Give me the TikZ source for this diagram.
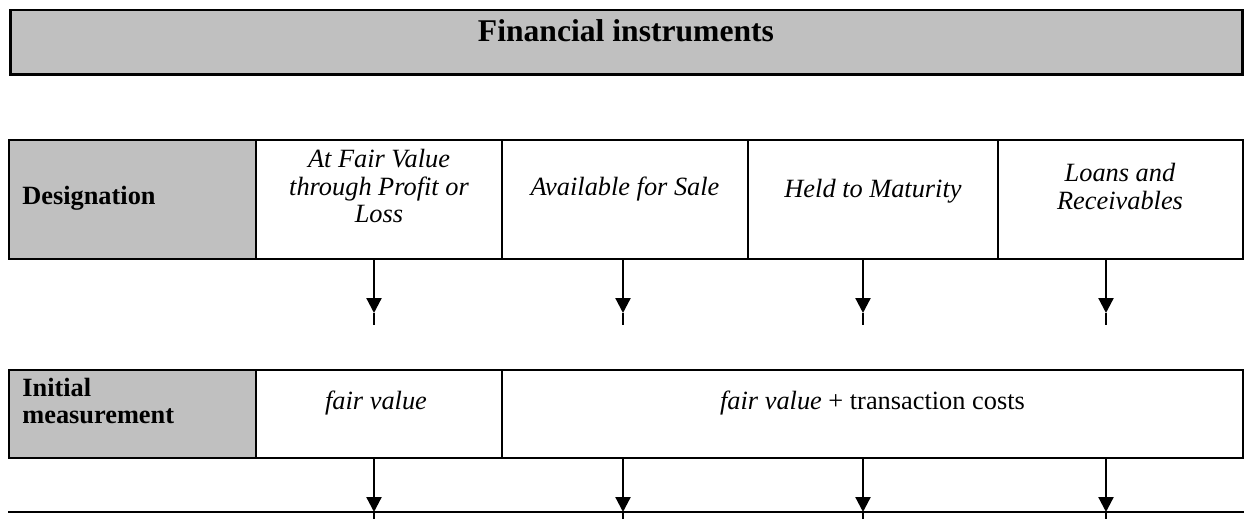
\documentclass[tikz,border=0pt]{standalone}
\usepackage{fontspec}
\setmainfont{Liberation Serif}
\usetikzlibrary{arrows.meta}
\definecolor{cellgray}{HTML}{C0C0C0}

\begin{document}
\begin{tikzpicture}[x=0.02cm, y=-0.02cm]
\tikzstyle{cell} = [draw, line width=1.2pt, inner sep=0pt, minimum height=2.38cm]
\tikzstyle{cell2} = [cell, minimum height=1.76cm]
\tikzstyle{head} = [fill=cellgray]
\tikzstyle{txt} = [font=\fontsize{15}{15.9}\selectfont\itshape, align=center, inner sep=0pt]
\tikzstyle{headtxt} = [font=\fontsize{15}{15.9}\selectfont\bfseries, align=left, inner sep=0pt, anchor=west]
\tikzstyle{flowarrow} = [line width=1.3pt, -{Triangle[length=8.5pt, width=8.5pt]}]
\tikzstyle{flowline} = [line width=1.3pt]

\useasboundingbox (0,0) rectangle (1244,519);

\node[draw, fill=cellgray, line width=1.7pt, minimum width=24.66cm, minimum height=1.3cm, inner sep=0pt] (fin) at (626.5,42.5) {};
\node[font=\fontsize{18}{21}\selectfont\bfseries, inner sep=0pt] (fintxt) at (626,31) {Financial instruments};

\node[cell, head, minimum width=4.94cm] (desig) at (132.5,199.5) {};
\node[cell, minimum width=4.92cm] (fvpl) at (379,199.5) {};
\node[cell, minimum width=4.92cm] (afs) at (625,199.5) {};
\node[cell, minimum width=5cm] (htm) at (873,199.5) {};
\node[cell, minimum width=4.9cm] (lar) at (1120.5,199.5) {};

\node[headtxt] (desigtxt) at (22,198) {Designation};
\node[txt] (fvpltxt) at (379,186) {At Fair Value\\through Profit or\\Loss};
\node[txt] (afstxt) at (625,189) {Available for Sale};
\node[txt] (htmtxt) at (873,191) {Held to Maturity};
\node[txt] (lartxt) at (1120,186.5) {Loans and\\Receivables};

\foreach \x/\c in {374/fvpl, 623/afs, 863/htm, 1106/lar} {
    \coordinate (\c tip) at (\x,313);
    \coordinate (\c end) at (\x,325);
    \draw[flowarrow] (\c tip |- \c.south) -- (\c tip);
    \draw[flowline] (\c tip) -- (\c end);
}

\node[cell2, head, minimum width=4.94cm] (init) at (132.5,414) {};
\node[cell2, minimum width=4.92cm] (fv) at (379,414) {};
\node[cell2, minimum width=14.82cm] (fvtc) at (872.5,414) {};

\node[headtxt] (inittxt) at (22,401) {Initial\\measurement};
\node[txt] (fvtxt) at (376,403) {fair value};
\node[txt, font=\fontsize{15}{15.9}\selectfont] (fvtctxt) at (872.5,403) {\textit{fair value} + transaction costs};

\coordinate (base west) at (8,512);
\coordinate (base east) at (1244,512);
\draw[flowline] (base west) -- (base east);

\foreach \x/\n/\c in {374/a/fv, 623/b/fvtc, 863/c/fvtc, 1106/d/fvtc} {
    \coordinate (tip\n) at (\x,512);
    \coordinate (end\n) at (\x,519);
    \draw[flowarrow] (tip\n |- \c.south) -- (tip\n);
    \draw[flowline] (tip\n) -- (end\n);
}
\end{tikzpicture}
\end{document}
